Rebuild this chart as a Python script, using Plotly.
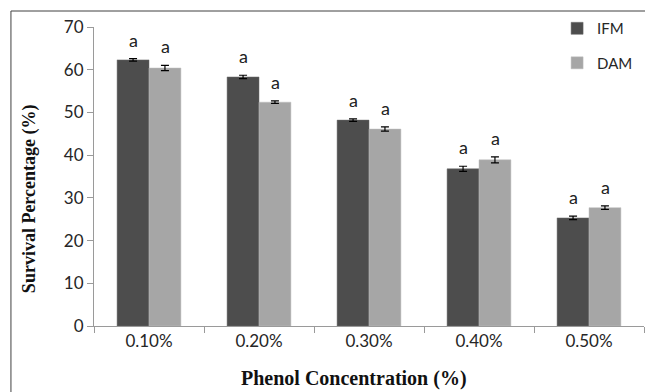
import plotly.graph_objects as go

categories = ["0.10%", "0.20%", "0.30%", "0.40%", "0.50%"]
ifm_values = [62.3, 58.3, 48.2, 36.8, 25.3]
ifm_errors = [0.3, 0.4, 0.3, 0.6, 0.4]
dam_values = [60.4, 52.4, 46.1, 38.9, 27.7]
dam_errors = [0.6, 0.3, 0.5, 0.7, 0.4]
sig_ifm = ["a", "a", "a", "a", "a"]
sig_dam = ["a", "a", "a", "a", "a"]

tick_font = dict(family="Lato, Open Sans, sans-serif", size=17, color="#262626")
serif = "Liberation Serif, Times New Roman, serif"

fig = go.Figure()
fig.add_trace(go.Bar(
    x=categories, y=ifm_values, name="IFM", marker=dict(color="#4d4d4d", line=dict(color="#6a6a6a", width=0.5)),
    error_y=dict(type="data", array=ifm_errors, color="#000000", thickness=1.2, width=4),
    legendgroup="g1",
))
fig.add_trace(go.Bar(
    x=categories, y=dam_values, name="DAM", marker=dict(color="#a6a6a6", line=dict(color="#bdbdbd", width=0.5)),
    error_y=dict(type="data", array=dam_errors, color="#000000", thickness=1.2, width=4),
    legendgroup="g2",
))

annotations = []
for c, v, e, s in zip(categories, ifm_values, ifm_errors, sig_ifm):
    annotations.append(dict(x=c, y=v + e, text=s, showarrow=False, xshift=-16, yshift=6,
                            yanchor="bottom", font=dict(family="Lato, Open Sans, sans-serif", size=18, color="#222222")))
for c, v, e, s in zip(categories, dam_values, dam_errors, sig_dam):
    annotations.append(dict(x=c, y=v + e, text=s, showarrow=False, xshift=16, yshift=6,
                            yanchor="bottom", font=dict(family="Lato, Open Sans, sans-serif", size=18, color="#222222")))

# axis titles
annotations.append(dict(xref="paper", yref="paper", x=0.473, y=-0.174, text="<b>Phenol Concentration (%)</b>",
                        showarrow=False, xanchor="center", yanchor="middle",
                        font=dict(family=serif, size=20, color="#111111")))
annotations.append(dict(xref="paper", yref="paper", x=-0.116, y=0.425, text="<b>Survival Percentage (%)</b>",
                        showarrow=False, xanchor="center", yanchor="middle", textangle=-90,
                        font=dict(family=serif, size=18, color="#111111")))

fig.update_layout(
    width=645, height=392,
    margin=dict(l=94, r=1, t=27, b=66),
    paper_bgcolor="white", plot_bgcolor="white",
    barmode="group", bargap=0.42, bargroupgap=0,
    showlegend=True,
    legend=dict(x=0.842, y=1.05, xanchor="left", yanchor="top", bgcolor="rgba(0,0,0,0)",
                font=dict(family="Lato, Open Sans, sans-serif", size=15, color="#262626"),
                traceorder="grouped", tracegroupgap=12, itemwidth=30),
    annotations=annotations,
    xaxis=dict(
        showline=True, linecolor="#9a9a9a", linewidth=1,
        ticks="outside", tickson="boundaries", ticklen=6, tickcolor="#9a9a9a",
        tickfont=tick_font, showgrid=False,
    ),
    yaxis=dict(
        range=[0, 70], dtick=10, showline=True, linecolor="#9a9a9a", linewidth=1,
        ticks="outside", ticklen=6, tickcolor="#9a9a9a", showgrid=False, zeroline=False,
        tickfont=tick_font,
    ),
    shapes=[dict(type="rect", xref="paper", yref="paper", x0=-0.151, x1=1.05, y0=-0.3, y1=1.0535,
                 line=dict(color="#404040", width=1), fillcolor="rgba(0,0,0,0)", layer="below")],
)

fig.write_html("out.html")
